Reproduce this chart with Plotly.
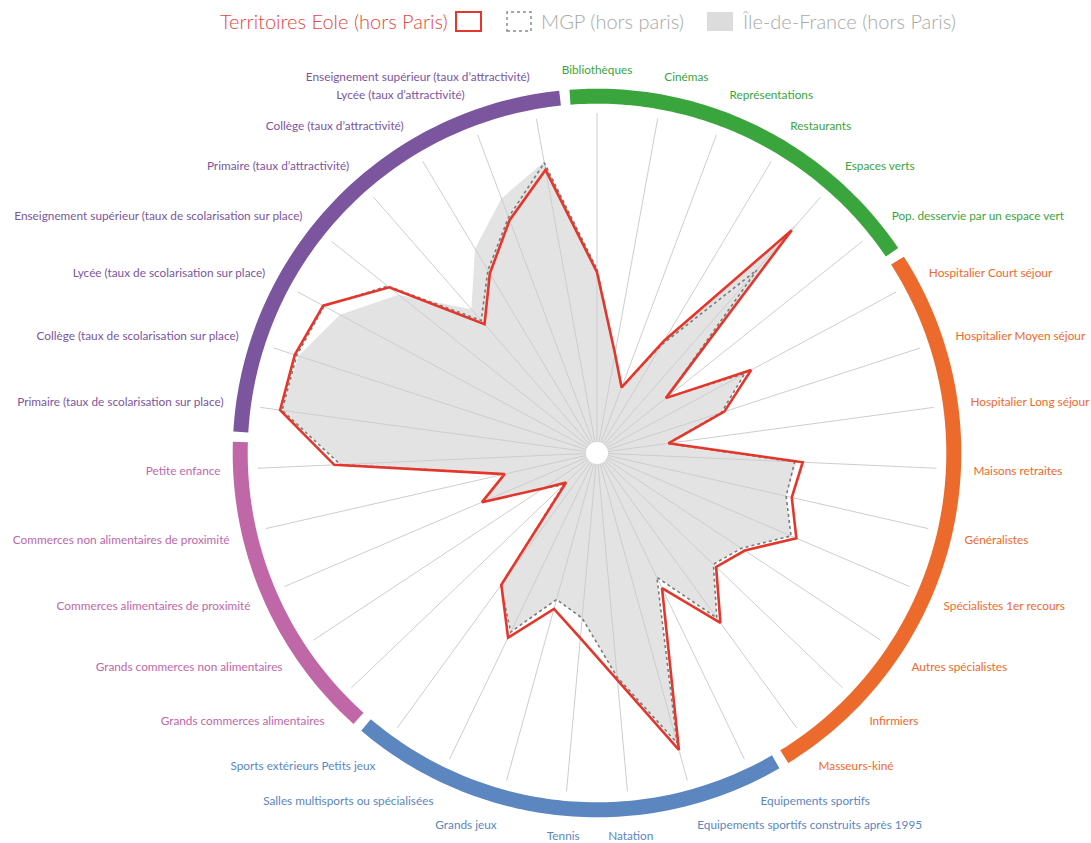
import plotly.graph_objects as go
import numpy as np

# 35 indicateurs, dans l'ordre horaire depuis le haut
categories = [
    "Bibliothèques", "Cinémas", "Représentations", "Restaurants", "Espaces verts",
    "Pop. desservie par un espace vert",
    "Hospitalier Court séjour", "Hospitalier Moyen séjour", "Hospitalier Long séjour",
    "Maisons retraites", "Généralistes", "Spécialistes 1er recours", "Autres spécialistes",
    "Infirmiers", "Masseurs-kiné",
    "Equipements sportifs", "Equipements sportifs construits après 1995", "Natation", "Tennis",
    "Grands jeux", "Salles multisports ou spécialisées", "Sports extérieurs Petits jeux",
    "Grands commerces alimentaires", "Grands commerces non alimentaires",
    "Commerces alimentaires de proximité", "Commerces non alimentaires de proximité",
    "Petite enfance",
    "Primaire (taux de scolarisation sur place)", "Collège (taux de scolarisation sur place)",
    "Lycée (taux de scolarisation sur place)",
    "Enseignement supérieur (taux de scolarisation sur place)",
    "Primaire (taux d’attractivité)", "Collège (taux d’attractivité)",
    "Lycée (taux d’attractivité)", "Enseignement supérieur (taux d’attractivité)",
]
group_sizes = [6, 9, 7, 5, 8]
group_colors = ["#3ba53d", "#ec6a2c", "#5c86bf", "#c067a8", "#7b569e"]

eole = [53.2, 29.7, 20.6, 38.5, 87.1, 25.9, 51.5, 39.4, 21.2, 60.6, 58.8, 63.8, 52.1,
        48.5, 61.8, 44.1, 90.6, 67.1, 54.7, 47.6, 60.3, 47.9, 12.6, 18.8, 36.8, 27.9,
        77.4, 94.1, 93.5, 91.5, 78.2, 50.3, 61.5, 73.2, 84.7]
mgp = [54.1, 29.7, 20.6, 37.1, 71.5, 26.2, 49.4, 38.5, 20.9, 58.2, 57.1, 62.1, 50.9,
       47.4, 60.0, 40.6, 88.5, 66.2, 48.8, 44.7, 58.5, 48.2, 13.5, 18.8, 36.8, 27.9,
       75.6, 93.5, 92.9, 91.2, 78.8, 51.8, 62.6, 74.1, 86.8]
idf = [54.1, 29.7, 20.6, 37.1, 90.6, 26.2, 49.4, 38.5, 20.9, 58.8, 57.1, 62.1, 50.9,
       47.4, 60.0, 40.6, 88.5, 66.2, 48.8, 44.7, 58.5, 48.2, 13.5, 18.8, 36.8, 27.9,
       75.6, 93.5, 92.4, 85.9, 74.7, 56.2, 70.0, 80.0, 87.1]

n = len(categories)
step = 360 / n
theta = [i * step for i in range(n)]


def closed(values):
    return list(values) + [values[0]], theta + [theta[0]]


label_colors = []
for size, col in zip(group_sizes, group_colors):
    label_colors += [col] * size
ticktext = [f'<span style="color:{c}">{t}</span>' for t, c in zip(categories, label_colors)]

fig = go.Figure()

# Île-de-France : aire grise
r, t = closed(idf)
fig.add_trace(go.Scatterpolar(r=r, theta=t, mode="lines", fill="toself",
                              fillcolor="#e3e3e3", line=dict(width=0, color="#e3e3e3"),
                              hoverinfo="skip", showlegend=False))

# rayons
spoke_r, spoke_t = [], []
for a in theta:
    spoke_r += [0, 100, None]
    spoke_t += [a, a, None]
fig.add_trace(go.Scatterpolar(r=spoke_r, theta=spoke_t, mode="lines",
                              line=dict(color="#cdcdcd", width=1),
                              hoverinfo="skip", showlegend=False))

# MGP : pointillés
r, t = closed(mgp)
fig.add_trace(go.Scatterpolar(r=r, theta=t, mode="lines",
                              line=dict(color="#7a7a7a", width=1.6, dash="dot"),
                              hoverinfo="skip", showlegend=False))

# Territoires Eole : ligne rouge
r, t = closed(eole)
fig.add_trace(go.Scatterpolar(r=r, theta=t, mode="lines",
                              line=dict(color="#e5362b", width=2.6),
                              hoverinfo="skip", showlegend=False))

# trou central
fig.add_trace(go.Scatterpolar(r=[0], theta=[0], mode="markers",
                              marker=dict(size=22, color="white"),
                              hoverinfo="skip", showlegend=False))

# anneau coloré par thème
start = 0
for size, col in zip(group_sizes, group_colors):
    a0 = (start - 0.5) * step + 0.8
    a1 = (start + size - 0.5) * step - 0.8
    arc = np.linspace(a0, a1, 80)
    fig.add_trace(go.Scatterpolar(r=[105] * len(arc), theta=arc, mode="lines",
                                  line=dict(color=col, width=15),
                                  hoverinfo="skip", showlegend=False))
    start += size

W, H = 1091, 843
cx, cy, R = 597, 453, 367
fig.update_layout(
    width=W, height=H,
    margin=dict(l=0, r=0, t=0, b=0),
    paper_bgcolor="white",
    polar=dict(
        domain=dict(x=[(cx - R) / W, (cx + R) / W], y=[(H - cy - R) / H, (H - cy + R) / H]),
        bgcolor="white",
        radialaxis=dict(range=[0, 108], visible=False),
        angularaxis=dict(
            thetaunit="degrees", direction="clockwise", rotation=90,
            tickmode="array", tickvals=theta, ticktext=ticktext,
            showgrid=False, showline=False,
            ticks="outside", ticklen=7, tickcolor="rgba(0,0,0,0)",
            tickfont=dict(family="Lato", size=11.8, color="#7b569e"),
        ),
    ),
)

# légende
ly = 21
legend_font = dict(family="Lato", size=20, weight=300)
box_top, box_bot = 12, 31
fig.add_annotation(x=450 / W, y=1 - ly / H, xref="paper", yref="paper", xanchor="right",
                   yanchor="middle", showarrow=False, text="Territoires Eole (hors Paris)",
                   font=dict(color="#e5463b", **legend_font))
fig.add_shape(type="rect", xref="paper", yref="paper", x0=456 / W, x1=481 / W,
              y0=1 - box_bot / H, y1=1 - box_top / H, line=dict(color="#e5362b", width=2))
fig.add_shape(type="rect", xref="paper", yref="paper", x0=507 / W, x1=531 / W,
              y0=1 - box_bot / H, y1=1 - box_top / H,
              line=dict(color="#8a8a8a", width=1.5, dash="dot"))
fig.add_annotation(x=539 / W, y=1 - ly / H, xref="paper", yref="paper", xanchor="left",
                   yanchor="middle", showarrow=False, text="MGP (hors paris)",
                   font=dict(color="#a8a8a8", **legend_font))
fig.add_shape(type="rect", xref="paper", yref="paper", x0=707 / W, x1=733 / W,
              y0=1 - box_bot / H, y1=1 - box_top / H, fillcolor="#dcdcdc", line=dict(width=0))
fig.add_annotation(x=740 / W, y=1 - ly / H, xref="paper", yref="paper", xanchor="left",
                   yanchor="middle", showarrow=False, text="Île-de-France (hors Paris)",
                   font=dict(color="#a8a8a8", **legend_font))

# la page n'ajoute pas de marge autour du graphique
fig.write_html("out.html", config={"displayModeBar": False},
               post_script="document.body.style.margin='0';")
